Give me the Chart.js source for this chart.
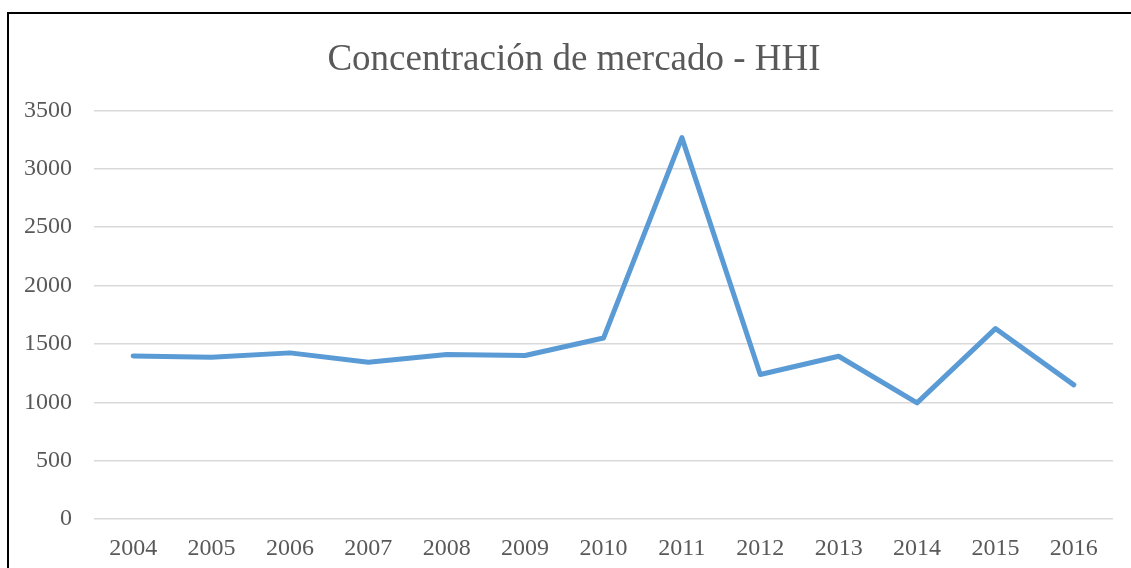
<!DOCTYPE html>
<html>
<head>
<meta charset="utf-8">
<title>Concentración de mercado - HHI</title>
<script src="https://cdn.jsdelivr.net/npm/chart.js@4.4.1/dist/chart.umd.min.js"></script>
<style>
    html, body { margin: 0; padding: 0; background: #fff; overflow: hidden; }
    #wrap { position: relative; width: 1131px; height: 568px; }
    #marco {
        position: absolute; left: 7px; top: 12px; width: 1200px; height: 600px;
        border-top: 2px solid #000; border-left: 2px solid #000;
    }
    #myChart { position: absolute; left: 0; top: 0; }
</style>
</head>
<body>
<div id="wrap">
    <div id="marco"></div>
    <canvas id="myChart" width="1131" height="568"></canvas>
</div>
<script>
const anios = ['2004', '2005', '2006', '2007', '2008', '2009', '2010', '2011', '2012', '2013', '2014', '2015', '2016'];
const hhi = [1397, 1386, 1423, 1343, 1409, 1400, 1550, 3267, 1238, 1394, 995, 1631, 1149];
const titulo = 'Concentración de mercado - HHI';

const fuente = "'Liberation Serif', 'Times New Roman', serif";
const gris = '#595959';

const ctx = document.getElementById('myChart').getContext('2d');
const myChart = new Chart(ctx, {
    type: 'line',
    data: {
        labels: anios,
        datasets: [{
            label: 'HHI',
            data: hhi,
            borderColor: '#5B9BD5',
            borderWidth: 5,
            borderJoinStyle: 'round',
            borderCapStyle: 'round',
            pointRadius: 0,
            tension: 0,
            fill: false
        }]
    },
    options: {
        responsive: false,
        animation: false,
        layout: { padding: { left: 17, right: 0, top: 14, bottom: 0 } },
        plugins: {
            legend: { display: false },
            tooltip: { enabled: false },
            title: {
                display: true,
                text: titulo,
                color: gris,
                font: { family: fuente, size: 37, weight: 'normal', lineHeight: 1.2 },
                padding: { top: 24, bottom: 28 }
            }
        },
        scales: {
            x: {
                offset: true,
                grid: { display: false, drawTicks: false },
                border: { display: false },
                ticks: { color: gris, font: { family: fuente, size: 24 }, padding: 15, maxRotation: 0 },
                afterFit: (scale) => { scale.height = 49; }
            },
            y: {
                min: 0,
                max: 3500,
                grid: { color: '#d9d9d9', lineWidth: 1.5, drawTicks: false },
                border: { display: false },
                ticks: {
                    stepSize: 500,
                    color: gris,
                    font: { family: fuente, size: 24 },
                    padding: 22,
                    callback: (valor) => String(valor)
                },
                afterFit: (scale) => { scale.width = 77; }
            },
            // eje vacio a la derecha, solo deja el margen del area del grafico
            margen: {
                position: 'right',
                grid: { display: false, drawTicks: false },
                border: { display: false },
                ticks: { display: false },
                afterFit: (scale) => { scale.width = 18; }
            }
        }
    }
});
</script>
</body>
</html>
